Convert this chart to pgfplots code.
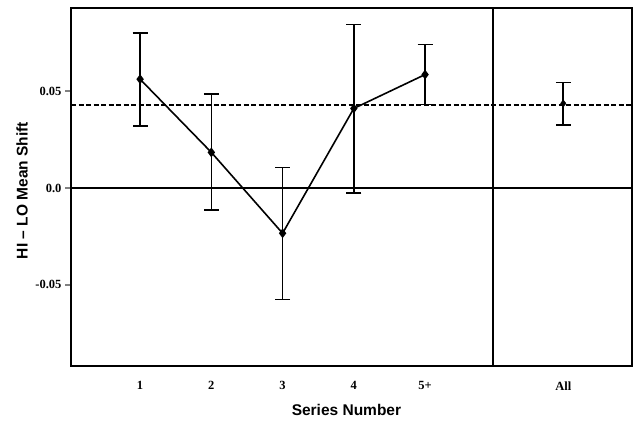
\documentclass[border=0pt]{standalone}
\usepackage{fontspec}
\setmainfont{Liberation Serif}
\newfontfamily\labelfont{Liberation Sans}
\usepackage{pgfplots}
\pgfplotsset{compat=1.18}
\begin{document}
\begin{tikzpicture}
% picture frame, 636 x 420
\path[use as bounding box] (0,0) rectangle (636pt,420pt);
\begin{axis}[
    at={(71pt,54pt)}, anchor=south west,
    scale only axis,
    width=561pt, height=358pt,
    xmin=0.03, xmax=7.905,
    ymin=-0.092, ymax=0.093,
    axis line style={line width=1.7pt},
    xtick={1,2,3,4,5,6.94},
    xticklabels={1,2,3,4,5+,All},
    ytick={-0.05,0,0.05},
    yticklabels={-0.05,0.0,0.05},
    scaled y ticks=false,
    x tick style={draw=none},
    y tick style={line width=1.6pt},
    ytick pos=left,
    tick align=outside,
    major tick length=6pt,
    tick label style={font=\fontsize{12.5}{14}\selectfont\bfseries},
    xticklabel style={yshift=-6pt},
    xlabel={Series Number},
    ylabel={HI – LO Mean Shift},
    label style={font=\labelfont\fontsize{15.5}{18}\selectfont\bfseries},
    xlabel style={at={(axis description cs:0.491,-0.123)},anchor=center},
    ylabel style={at={(axis description cs:-0.087,0.49)},anchor=center},
    clip=false,
]
% zero line and overall mean (dashed)
\addplot[black, line width=1.6pt] coordinates {(0.03,0) (7.905,0)};
\addplot[black, line width=1.7pt, dash pattern=on 5pt off 2.5pt] coordinates {(0.03,0.043) (7.905,0.043)};
% separator between series and "All"
\addplot[black, line width=1.6pt] coordinates {(5.95,-0.092) (5.95,0.093)};
% series 1..5+
\addplot[black, line width=1.6pt, mark=diamond*, mark size=3.6pt,
    error bars/.cd, y dir=both, y explicit,
    error bar style={line width=1.6pt}, error mark options={rotate=90, mark size=7.5pt, line width=1.6pt}]
    table[x=x, y=y, y error plus=ep, y error minus=em] {
    x   y       ep      em
    1   0.0562  0.0238  0.0242
    2   0.0184  0.0302  0.0297
    3   -0.0234 0.0339  0.0343
    4   0.0411  0.0433  0.0438
    5   0.0586  0.0156  0.0155
    };
% all
\addplot[black, only marks, mark=diamond*, mark size=3.6pt,
    error bars/.cd, y dir=both, y explicit,
    error bar style={line width=1.6pt}, error mark options={rotate=90, mark size=7.5pt, line width=1.6pt}]
    table[x=x, y=y, y error plus=ep, y error minus=em] {
    x     y       ep      em
    6.94  0.0437  0.0108  0.0112
    };
\end{axis}
\end{tikzpicture}
\end{document}
